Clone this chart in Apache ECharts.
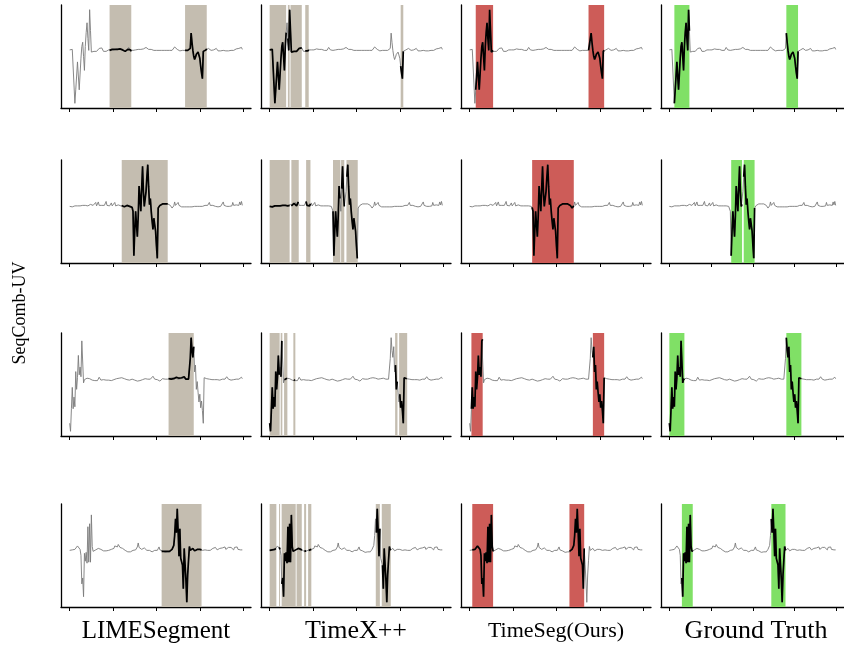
<!DOCTYPE html>
<html><head><meta charset="utf-8">
<script src="https://cdn.jsdelivr.net/npm/echarts@6/dist/echarts.min.js"></script>
<style>html,body{margin:0;padding:0;background:#fff}#c{width:844px;height:645px}</style>
</head><body><div id="c"></div><script>
// ---- data ----
const methods = ['LIMESegment', 'TimeX++', 'TimeSeg(Ours)', 'Ground Truth'];
const yLabel = 'SeqComb-UV';
const xTicks = [0, 50, 100, 150, 200];

const row1 = [
 0.05,0.1,-0.05,0.1,0.0,0.05,-5.37,-4.0,-2.6,-1.17,
 -2.6,-4.0,-2.4,-0.8,0.4,0.83,-0.6,-2.03,0.4,1.8,
 2.8,1.2,0.0,4.13,2.0,-0.17,-0.05,0.0,-0.1,-0.05,
 0.0,-0.1,-0.05,0.1,0.2,0.3,0.35,0.25,0.05,-0.1,
 -0.15,-0.05,-0.1,0.0,-0.05,0.05,0.0,-0.05,0.05,0.1,
 0.0,0.05,0.1,0.05,0.15,0.1,0.2,0.1,0.15,0.25,
 0.1,0.05,0.15,0.0,-0.1,0.05,0.0,0.1,0.3,0.15,
 0.05,-0.1,-0.05,0.0,0.1,-0.05,0.05,0.15,0.0,0.1,
 0.05,0.3,0.1,0.2,0.05,0.15,0.2,0.1,0.3,0.15,
 0.35,0.1,0.2,0.05,0.1,-0.05,0.05,0.0,0.1,0.05,
 0.0,0.05,-0.05,0.0,0.1,-0.05,0.0,0.05,-0.05,0.0,
 0.05,0.1,0.0,-0.05,0.05,0.0,0.1,0.05,0.0,0.1,
 0.2,0.35,0.55,0.3,0.1,0.0,-0.1,-0.05,0.0,0.05,
 0.0,-0.05,0.05,0.0,0.1,0.05,0.0,0.0,-0.1,0.2,
 1.75,0.8,0.0,-0.6,-0.93,-0.7,-0.4,-0.2,-0.17,-0.3,
 -0.8,-1.6,-2.3,-2.87,-0.1,0.0,0.1,0.05,0.15,0.1,
 0.2,0.05,0.1,0.0,0.05,0.15,0.05,0.0,0.1,0.2,
 0.05,-0.05,0.0,0.05,-0.05,0.0,-0.1,0.0,-0.05,0.05,
 -0.05,-0.1,0.0,-0.05,0.05,0.1,0.0,-0.05,0.05,0.0,
 0.1,0.05,0.15,0.0,0.1,0.2,0.05,0.15,0.3,0.1
];
const row2 = [
 0.0,-0.1,0.05,-0.05,0.1,0.0,0.05,-0.05,0.1,0.05,
 0.0,0.1,0.05,0.15,0.0,0.1,0.05,0.2,0.1,0.0,
 0.1,0.05,0.15,0.1,0.2,0.05,0.15,0.1,0.3,0.1,
 0.4,0.05,0.2,0.45,0.1,0.0,0.15,0.1,0.05,0.2,
 0.1,0.05,0.5,0.1,0.0,0.1,0.05,0.25,0.35,0.05,
 0.0,0.1,0.4,0.05,0.0,0.1,0.15,0.05,0.0,0.05,
 0.1,0.0,0.05,-0.05,0.0,0.05,0.1,0.0,0.05,0.0,
 0.05,0.0,-0.1,-0.5,-5.0,-2.5,-0.5,-1.8,-3.07,-1.0,
 2.07,0.8,-0.5,1.8,4.07,1.5,0.0,0.2,1.5,3.0,
 4.23,2.0,0.17,0.8,-0.5,-1.5,-2.33,-1.2,-1.0,-2.5,
 -4.0,-5.27,-0.17,0.0,0.1,0.05,0.15,0.25,0.2,0.3,
 0.25,0.3,0.2,0.25,0.3,0.2,0.1,0.0,-0.17,-0.1,
 0.05,0.45,0.1,0.2,0.05,0.4,0.1,0.0,0.05,-0.05,
 0.0,-0.1,-0.05,0.0,-0.1,-0.05,0.0,0.05,-0.05,0.0,
 -0.1,-0.05,0.0,-0.1,0.0,0.05,-0.05,0.0,-0.1,-0.05,
 0.0,-0.05,0.05,0.0,-0.05,0.0,0.1,0.05,0.0,0.1,
 0.2,0.4,0.1,0.0,0.05,0.1,0.0,-0.05,0.0,0.05,
 0.0,-0.05,0.05,0.1,0.0,0.05,0.15,0.45,0.1,0.0,
 0.05,0.0,0.1,0.05,0.0,0.1,0.15,0.05,0.4,0.1,
 0.05,0.1,0.15,0.05,0.2,0.1,0.45,0.15,0.5,0.1
];
const row3 = [
 -4.5,-5.33,-3.0,-0.8,-3.0,-1.8,-2.8,0.83,-1.0,0.2,
 2.5,0.5,1.3,0.3,4.0,4.17,-0.33,0.0,0.1,0.05,
 0.15,0.0,0.2,0.1,0.0,0.15,-0.05,0.1,0.0,-0.1,
 0.05,0.0,-0.1,0.1,0.25,0.05,-0.05,-0.15,-0.1,0.0,
 -0.1,0.05,-0.05,0.0,-0.15,-0.05,0.1,0.0,-0.1,0.05,
 0.1,0.0,0.15,0.05,0.1,0.2,0.05,0.15,0.0,0.1,
 0.2,0.35,0.25,0.1,0.2,0.05,0.0,0.1,0.05,-0.05,
 0.0,0.15,0.05,0.0,-0.1,-0.05,0.0,-0.1,-0.15,-0.05,
 0.0,-0.1,-0.05,0.05,0.0,-0.1,0.05,0.1,0.0,-0.05,
 0.05,0.0,0.1,0.05,0.0,0.15,0.35,0.2,0.05,-0.05,
 -0.1,0.0,0.05,-0.1,-0.15,-0.05,0.0,0.1,-0.05,0.0,
 0.05,0.0,-0.05,0.05,0.1,0.0,0.15,0.05,0.1,0.2,
 0.1,0.05,0.15,0.25,0.1,0.05,0.15,0.0,0.1,0.2,
 0.05,0.15,0.3,0.1,0.05,0.0,0.0,0.05,0.0,2.2,
 4.33,3.0,2.3,3.4,0.8,1.5,-1.0,-0.2,-1.3,-2.3,
 -1.5,-2.9,-2.2,-3.2,-4.5,0.2,0.1,0.0,0.1,0.3,
 0.1,0.05,0.0,-0.05,0.0,-0.1,-0.05,0.0,0.05,-0.05,
 0.0,0.05,0.0,-0.05,-0.1,0.0,0.05,0.0,0.1,0.05,
 0.15,0.3,0.1,0.05,0.0,0.05,-0.05,0.0,0.05,0.0,
 -0.05,0.0,0.05,0.1,0.0,0.05,0.1,0.2,0.25,0.1
];
const row4 = [
 0.0,0.05,0.1,0.05,0.1,0.15,0.1,0.2,0.3,0.45,
 0.55,0.3,0.1,-0.5,-3.4,-2.8,-4.7,-0.3,-1.1,-0.2,
 -1.3,2.4,-1.2,2.7,-1.2,3.6,0.4,-0.1,0.0,0.1,
 0.05,0.15,0.0,0.2,0.05,0.25,0.1,0.0,0.05,-0.05,
 -0.1,0.0,-0.05,0.1,0.05,0.0,-0.05,0.0,0.1,0.15,
 0.3,0.2,0.45,0.3,0.55,0.35,0.6,0.4,0.3,0.45,
 0.25,0.2,0.1,0.05,0.0,-0.05,-0.1,-0.15,-0.1,-0.2,
 -0.15,-0.1,-0.05,0.0,0.05,0.1,0.05,0.2,0.35,0.75,
 0.3,0.2,0.4,0.1,0.05,0.15,0.25,0.1,0.05,0.0,
 -0.05,0.05,0.0,-0.1,-0.05,-0.15,-0.1,-0.05,0.0,0.05,
 -0.05,0.0,0.1,0.35,0.05,-0.05,-0.1,-0.05,-0.15,-0.1,
 -0.2,-0.15,-0.1,-0.15,-0.2,-0.1,-0.15,-0.05,0.1,0.3,
 0.5,1.5,3.2,1.8,4.23,2.0,-0.6,2.2,-0.8,-0.6,
 -1.5,-3.9,0.2,-1.4,-3.0,-5.27,-2.5,-1.0,0.4,0.0,
 0.05,0.0,0.2,0.05,-0.05,0.0,0.05,0.1,0.0,0.05,
 0.1,0.2,0.05,0.0,0.1,0.15,0.05,0.2,0.1,0.0,
 0.05,0.1,0.0,0.15,0.1,0.2,0.05,0.1,0.3,0.15,
 0.05,0.0,0.1,0.2,0.05,0.15,0.25,0.1,0.05,0.35,
 0.1,0.05,0.2,0.3,0.1,0.15,0.3,0.1,0.25,0.05,
 0.3,0.1,0.2,0.35,0.1,0.2,0.15,0.05,0.0,0.05
];

// highlighted intervals (x units), one list per row
const limeSpans = [
 [[46,71],[133,158]],
 [[60,113]],
 [[114,143]],
 [[106,152]]
];
const timexSpans = [
 [[0,19],[21,23],[24,37],[41,45],[151,154]],
 [[0,23],[25,33.5],[42,47],[73,81.5],[82.3,86],[88.5,101.5]],
 [[0,11.5],[12.7,14.6],[16.6,20.4],[27.3,29.6],[144.6,147.3],[149.2,158.5]],
 [[0,7.7],[10.8,12],[13.8,30],[31,37],[39.7,42],[44.3,48],[122.3,127],[129.2,139.6]]
];
const timesegSpans = [
 [[7,27],[137,155]],
 [[72,120]],
 [[2,15],[142,155]],
 [[3,27],[115,132]]
];
const truthSpans = [
 [[6,24],[140,154]],
 [[74,87],[89,102]],
 [[0,18],[140,158]],
 [[15,28],[122,139]]
];

// ---- layout / build ----
const rows = [row1, row2, row3, row4];
const spansByCol = [limeSpans, timexSpans, timesegSpans, truthSpans];
const spanColors = ['#c4bdb0', '#c4bdb0', '#cd5c58', '#80e066'];
const gridTops = [5, 160, 333, 504];
const gridH = 103, gridW = 190;
const gridLefts = [61, 261, 461, 661];

const grids = [], xAxes = [], yAxes = [], series = [];
let gi = 0;
for (let r = 0; r < 4; r++) {
  const vals = rows[r];
  const mn = Math.min(...vals), mx = Math.max(...vals);
  const pad = (mx - mn) * 0.05;
  const full = vals.map((v, i) => [i, v]);
  for (let c = 0; c < 4; c++) {
    grids.push({ left: gridLefts[c], top: gridTops[r], width: gridW, height: gridH });
    xAxes.push({
      type: 'value', gridIndex: gi, min: -10, max: 209,
      axisLine: { show: true, onZero: false, lineStyle: { color: '#000', width: 1.3 } },
      axisTick: { show: true, inside: false, length: 4, customValues: xTicks, lineStyle: { color: '#000', width: 1 } },
      axisLabel: { show: false, customValues: xTicks },
      splitLine: { show: false }
    });
    yAxes.push({
      type: 'value', gridIndex: gi, min: mn - pad, max: mx + pad,
      axisLine: { show: true, onZero: false, lineStyle: { color: '#000', width: 1.3 } },
      axisTick: { show: false }, axisLabel: { show: false }, splitLine: { show: false }
    });
    const spans = spansByCol[c][r];
    series.push({
      type: 'line', xAxisIndex: gi, yAxisIndex: gi, data: full, showSymbol: false,
      lineStyle: { opacity: 0 }, silent: true, z: 1,
      markArea: {
        silent: true,
        itemStyle: { color: spanColors[c], opacity: 1 },
        data: spans.map(s => [{ xAxis: s[0] }, { xAxis: s[1] }])
      }
    });
    series.push({
      type: 'line', xAxisIndex: gi, yAxisIndex: gi, data: full, showSymbol: false,
      lineStyle: { color: '#7a7a7a', width: 0.9 }, silent: true, z: 2
    });
    const hi = vals.map((v, i) => spans.some(s => i >= s[0] && i <= s[1]) ? [i, v] : [i, null]);
    series.push({
      type: 'line', xAxisIndex: gi, yAxisIndex: gi, data: hi, showSymbol: false,
      connectNulls: false, lineStyle: { color: '#000', width: 1.7 }, silent: true, z: 3
    });
    gi++;
  }
}

const titleSizes = [25, 26, 22, 26];
const graphics = methods.map((m, c) => ({
  type: 'text', x: gridLefts[c] + gridW / 2, y: 631,
  style: { text: m, textAlign: 'center', textVerticalAlign: 'middle',
           font: titleSizes[c] + 'px "Liberation Serif", serif', fill: '#000' }
}));
graphics.push({
  type: 'text', x: 20, y: 313, rotation: Math.PI / 2,
  style: { text: yLabel, textAlign: 'center', textVerticalAlign: 'middle',
           font: '18px "Liberation Serif", serif', fill: '#000' }
});

const chart = echarts.init(document.getElementById('c'), null, { renderer: 'canvas' });
chart.setOption({
  animation: false,
  backgroundColor: '#fff',
  grid: grids, xAxis: xAxes, yAxis: yAxes, series: series,
  graphic: graphics
});
</script></body></html>
